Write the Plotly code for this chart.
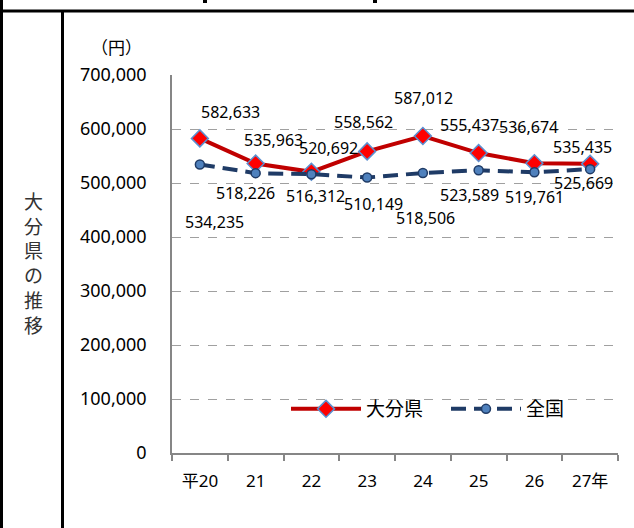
import plotly.graph_objects as go

# ---- data ----
years = ["平20", "21", "22", "23", "24", "25", "26", "27年"]
oita = [582633, 535963, 520692, 558562, 587012, 555437, 536674, 535435]
national = [534235, 518226, 516312, 510149, 518506, 523589, 519761, 525669]
y_ticks = [0, 100000, 200000, 300000, 400000, 500000, 600000, 700000]

# ---- label offsets (style, px) ----
oita_dx = [31, 18, 17, -4, 1, -9, -6, -8]
oita_dy = [26, 24, 24, 29, 38, 28, 36, 17]
nat_dx = [15, -10, 4, 6, 3, -9, 0, -7]
nat_dy = [-57, -20, -22, -26, -45, -25, -25, -14]

W, H = 634, 528
L, R, T, B = 172, 16, 75, 75
PW, PH = W - L - R, H - T - B

def px(x):
    return (x - L) / PW

def py(y):
    return (H - B - y) / PH

FONT = "Noto Sans, Noto Sans CJK JP, sans-serif"
RED = "#C00000"
NAVY = "#1F3B66"
BLUE = "#4F81BD"

fig = go.Figure()
fig.add_trace(go.Scatter(
    x=years, y=oita, name="大分県", mode="lines+markers",
    line=dict(color=RED, width=4),
    marker=dict(symbol="diamond", size=13, color="#FF0000",
                line=dict(color="#5B8FD0", width=1.5)),
))
fig.add_trace(go.Scatter(
    x=years, y=national, name="全国", mode="lines+markers",
    line=dict(color=NAVY, width=4, dash="15px,8px"),
    marker=dict(symbol="circle", size=9, color=BLUE,
                line=dict(color=NAVY, width=1.5)),
))

anns = []
for i, v in enumerate(oita):
    anns.append(dict(x=i, y=v, xref="x", yref="y", text=f"{v:,}", showarrow=False,
                     xanchor="center", yanchor="middle",
                     xshift=oita_dx[i], yshift=oita_dy[i],
                     font=dict(family=FONT, size=16, color="#000")))
for i, v in enumerate(national):
    anns.append(dict(x=i, y=v, xref="x", yref="y", text=f"{v:,}", showarrow=False,
                     xanchor="center", yanchor="middle",
                     xshift=nat_dx[i], yshift=nat_dy[i],
                     font=dict(family=FONT, size=16, color="#000")))
anns.append(dict(x=px(116), y=py(47), xref="paper", yref="paper", text="（円）",
                 xanchor="center", yanchor="middle",
                 showarrow=False, font=dict(family="Noto Sans CJK JP", size=17, color="#000")))
anns.append(dict(x=px(33), y=py(262), xref="paper", yref="paper",
                 xanchor="center", yanchor="middle",
                 text="大<br>分<br>県<br>の<br>推<br>移", showarrow=False,
                 font=dict(family="Noto Sans CJK JP", size=19, color="#333")))

shapes = [
    dict(type="line", xref="paper", yref="paper", x0=px(0), x1=px(W), y0=py(11), y1=py(11),
         line=dict(color="#000", width=3)),
    dict(type="line", xref="paper", yref="paper", x0=px(1.5), x1=px(1.5), y0=py(0), y1=py(H),
         line=dict(color="#000", width=3)),
    dict(type="line", xref="paper", yref="paper", x0=px(62.5), x1=px(62.5), y0=py(11), y1=py(H),
         line=dict(color="#000", width=3)),
    dict(type="rect", xref="paper", yref="paper", x0=px(203), x1=px(207), y0=py(0), y1=py(3),
         line=dict(width=0), fillcolor="#000"),
    dict(type="rect", xref="paper", yref="paper", x0=px(373), x1=px(377), y0=py(0), y1=py(3),
         line=dict(width=0), fillcolor="#000"),
]

fig.update_layout(
    width=W, height=H,
    margin=dict(l=L, r=R, t=T, b=B),
    paper_bgcolor="white", plot_bgcolor="white",
    font=dict(family=FONT, color="#000"),
    showlegend=True,
    legend=dict(orientation="h", x=px(286), xanchor="left", y=py(409), yanchor="middle",
                font=dict(family=FONT, size=19, color="#000"), itemwidth=70,
                entrywidth=75, bgcolor="rgba(0,0,0,0)"),
    annotations=anns,
    shapes=shapes,
)
fig.update_xaxes(
    type="category", range=[-0.5, len(years) - 0.5],
    showline=True, linecolor="#868686", linewidth=1.5,
    ticks="outside", tickson="boundaries", ticklen=6, tickcolor="#868686", tickwidth=1.5,
    showgrid=False, tickfont=dict(family=FONT, size=17, color="#000"),
    ticklabelstandoff=12,
)
fig.update_yaxes(
    range=[0, 700000], tickvals=y_ticks, tickformat=",d",
    showline=True, linecolor="#868686", linewidth=1.5,
    showgrid=True, gridcolor="#A0A0A0", griddash="dash", gridwidth=1,
    zeroline=False, ticks="", tickfont=dict(family=FONT, size=18, color="#000"),
    ticklabelstandoff=20,
)

fig.write_html("out.html", config={"displayModeBar": False},
               post_script="document.body.style.margin='0';")
